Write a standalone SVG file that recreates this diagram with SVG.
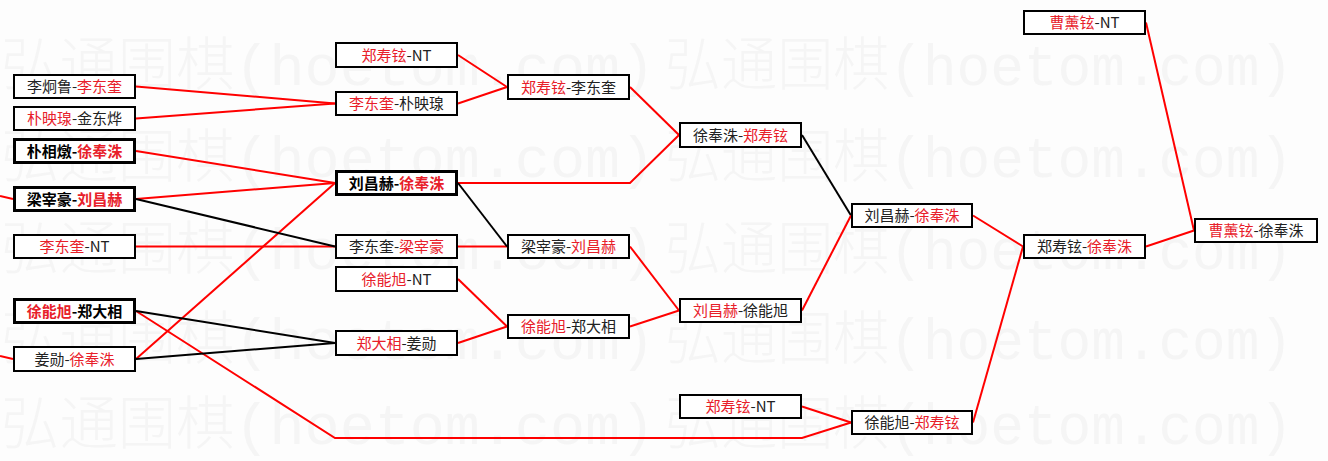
<svg xmlns="http://www.w3.org/2000/svg" width="1328" height="461" viewBox="0 0 1328 461">
<style>
.wm{font-family:"Liberation Mono","Noto Sans CJK SC",monospace;font-size:58px;fill:#f5f5f5;font-weight:300}
.box{fill:#ffffff;stroke:#000000;stroke-width:2}
.bold .box{stroke-width:3}
.t{font-family:"Noto Sans CJK SC","Noto Sans",sans-serif;font-size:15px;fill:#222222;text-anchor:middle}
.bold .t{font-weight:bold;fill:#000000}
.r{fill:#e8202a}
.lr{stroke:#ff0000;stroke-width:2;fill:none}
.lb{stroke:#000000;stroke-width:2;fill:none}
</style>
<rect x="0" y="0" width="1328" height="461" fill="#fdfdfd"/>
<g id="watermark">
<text class="wm" x="1" y="85" textLength="654" lengthAdjust="spacingAndGlyphs">弘通围棋(hoetom.com)</text>
<text class="wm" x="665" y="85" textLength="628" lengthAdjust="spacingAndGlyphs">弘通围棋(hoetom.com)</text>
<text class="wm" x="1" y="177" textLength="654" lengthAdjust="spacingAndGlyphs">弘通围棋(hoetom.com)</text>
<text class="wm" x="665" y="177" textLength="628" lengthAdjust="spacingAndGlyphs">弘通围棋(hoetom.com)</text>
<text class="wm" x="1" y="269" textLength="654" lengthAdjust="spacingAndGlyphs">弘通围棋(hoetom.com)</text>
<text class="wm" x="665" y="269" textLength="628" lengthAdjust="spacingAndGlyphs">弘通围棋(hoetom.com)</text>
<text class="wm" x="1" y="359" textLength="654" lengthAdjust="spacingAndGlyphs">弘通围棋(hoetom.com)</text>
<text class="wm" x="665" y="359" textLength="628" lengthAdjust="spacingAndGlyphs">弘通围棋(hoetom.com)</text>
<text class="wm" x="1" y="444" textLength="654" lengthAdjust="spacingAndGlyphs">弘通围棋(hoetom.com)</text>
<text class="wm" x="665" y="444" textLength="628" lengthAdjust="spacingAndGlyphs">弘通围棋(hoetom.com)</text>
</g>
<g id="connectors">
<path class="lr" d="M0,196 L13,199"/>
<path class="lr" d="M0,356 L13,359"/>
<path class="lr" d="M136,86.5 L335,103.5"/>
<path class="lr" d="M136,118.5 L335,103.5"/>
<path class="lr" d="M136,151 L335,183"/>
<path class="lr" d="M136,199 L335,183"/>
<path class="lr" d="M136,246.5 L335,246.5"/>
<path class="lr" d="M136,359 L335,183"/>
<path class="lr" d="M136,311 L335,438 L802,438 L851,422.5"/>
<path class="lb" d="M136,199 L335,246.5"/>
<path class="lb" d="M136,311 L335,343"/>
<path class="lb" d="M136,359 L335,343"/>
<path class="lr" d="M458,55 L507,87"/>
<path class="lr" d="M458,103.5 L507,87"/>
<path class="lr" d="M458,246.5 L507,246.5"/>
<path class="lr" d="M458,279 L507,326.5"/>
<path class="lr" d="M458,343 L507,326.5"/>
<path class="lr" d="M458,183 L630,183 L679,135"/>
<path class="lb" d="M458,183 L507,246.5"/>
<path class="lr" d="M630,87 L679,135"/>
<path class="lr" d="M630,246.5 L679,310.5"/>
<path class="lr" d="M630,326.5 L679,310.5"/>
<path class="lb" d="M802,135 L851,215.5"/>
<path class="lr" d="M802,310.5 L851,215.5"/>
<path class="lr" d="M802,406.5 L851,422.5"/>
<path class="lr" d="M973,215.5 L1023,246.5"/>
<path class="lr" d="M973,422.5 L1023,246.5"/>
<path class="lr" d="M1146,246.5 L1194,230.5"/>
<path class="lr" d="M1146,22.5 L1194,230.5"/>
</g>
<g id="A1"><rect class="box" x="14" y="75" width="121" height="23"/><text class="t" x="74.5" y="92">李炯鲁-<tspan class="r">李东奎</tspan></text></g>
<g id="A2"><rect class="box" x="14" y="107" width="121" height="23"/><text class="t" x="74.5" y="124"><tspan class="r">朴映瑔</tspan>-金东烨</text></g>
<g id="A3" class="bold"><rect class="box" x="14.5" y="139.5" width="120" height="23"/><text class="t" x="74.5" y="156.5">朴相燉-<tspan class="r">徐奉洙</tspan></text></g>
<g id="A4" class="bold"><rect class="box" x="14.5" y="187.5" width="120" height="23"/><text class="t" x="74.5" y="204.5">梁宰豪-<tspan class="r">刘昌赫</tspan></text></g>
<g id="A5"><rect class="box" x="14" y="235" width="121" height="23"/><text class="t" x="74.5" y="252"><tspan class="r">李东奎</tspan>-NT</text></g>
<g id="A6" class="bold"><rect class="box" x="14.5" y="299.5" width="120" height="23"/><text class="t" x="74.5" y="316.5"><tspan class="r">徐能旭</tspan>-郑大相</text></g>
<g id="A7"><rect class="box" x="14" y="347" width="121" height="24"/><text class="t" x="74.5" y="364.5">姜勋-<tspan class="r">徐奉洙</tspan></text></g>
<g id="B1"><rect class="box" x="336" y="43" width="121" height="24"/><text class="t" x="396.5" y="60.5"><tspan class="r">郑寿铉</tspan>-NT</text></g>
<g id="B2"><rect class="box" x="336" y="92" width="121" height="23"/><text class="t" x="396.5" y="109"><tspan class="r">李东奎</tspan>-朴映瑔</text></g>
<g id="B3" class="bold"><rect class="box" x="336.5" y="171.5" width="120" height="23"/><text class="t" x="396.5" y="188.5">刘昌赫-<tspan class="r">徐奉洙</tspan></text></g>
<g id="B4"><rect class="box" x="336" y="235" width="121" height="23"/><text class="t" x="396.5" y="252">李东奎-<tspan class="r">梁宰豪</tspan></text></g>
<g id="B5"><rect class="box" x="336" y="267" width="121" height="24"/><text class="t" x="396.5" y="284.5"><tspan class="r">徐能旭</tspan>-NT</text></g>
<g id="B6"><rect class="box" x="336" y="331" width="121" height="24"/><text class="t" x="396.5" y="348.5"><tspan class="r">郑大相</tspan>-姜勋</text></g>
<g id="C1"><rect class="box" x="508" y="75" width="121" height="24"/><text class="t" x="568.5" y="92.5"><tspan class="r">郑寿铉</tspan>-李东奎</text></g>
<g id="C2"><rect class="box" x="508" y="235" width="121" height="23"/><text class="t" x="568.5" y="252">梁宰豪-<tspan class="r">刘昌赫</tspan></text></g>
<g id="C3"><rect class="box" x="508" y="315" width="121" height="23"/><text class="t" x="568.5" y="332"><tspan class="r">徐能旭</tspan>-郑大相</text></g>
<g id="D1"><rect class="box" x="680" y="123" width="121" height="24"/><text class="t" x="740.5" y="140.5">徐奉洙-<tspan class="r">郑寿铉</tspan></text></g>
<g id="D2"><rect class="box" x="680" y="299" width="121" height="23"/><text class="t" x="740.5" y="316"><tspan class="r">刘昌赫</tspan>-徐能旭</text></g>
<g id="D3"><rect class="box" x="680" y="395" width="121" height="23"/><text class="t" x="740.5" y="412"><tspan class="r">郑寿铉</tspan>-NT</text></g>
<g id="E1"><rect class="box" x="852" y="204" width="120" height="23"/><text class="t" x="912" y="221">刘昌赫-<tspan class="r">徐奉洙</tspan></text></g>
<g id="E2"><rect class="box" x="852" y="411" width="120" height="23"/><text class="t" x="912" y="428">徐能旭-<tspan class="r">郑寿铉</tspan></text></g>
<g id="F1"><rect class="box" x="1024" y="11" width="121" height="23"/><text class="t" x="1084.5" y="28"><tspan class="r">曹薰铉</tspan>-NT</text></g>
<g id="F2"><rect class="box" x="1024" y="235" width="121" height="23"/><text class="t" x="1084.5" y="252">郑寿铉-<tspan class="r">徐奉洙</tspan></text></g>
<g id="G1"><rect class="box" x="1195" y="219" width="122" height="23"/><text class="t" x="1256" y="236"><tspan class="r">曹薰铉</tspan>-徐奉洙</text></g>
</svg>
